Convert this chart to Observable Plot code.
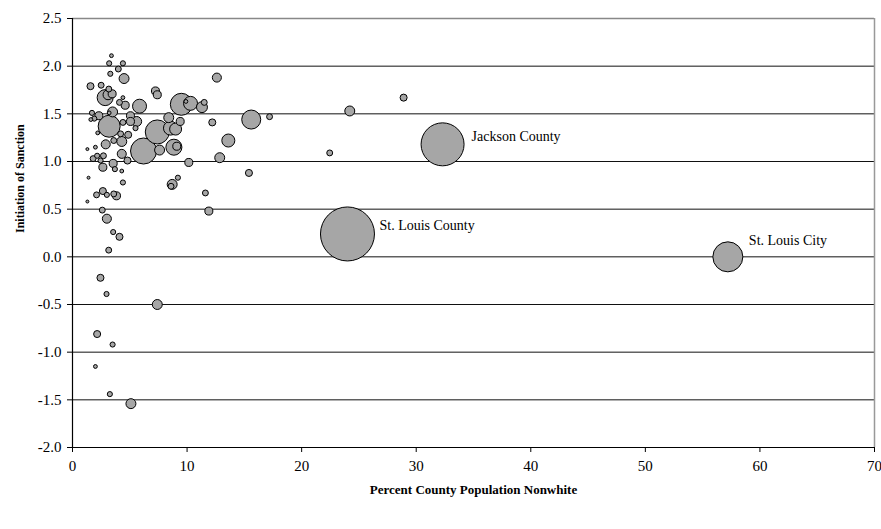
<!DOCTYPE html>
<html>
<head>
<meta charset="utf-8">
<script src="https://cdn.jsdelivr.net/npm/d3@7"></script>
<script src="https://cdn.jsdelivr.net/npm/@observablehq/plot@0.6"></script>
<style>
  html, body { margin: 0; padding: 0; background: #fff; }
  #chart svg { display: block; }
</style>
</head>
<body>
<div id="chart"></div>
<script>
// ---- data ----
const pctNonwhite = [
  3.4, 3.2, 4.4, 4.0, 3.3, 4.5, 1.57, 2.5, 3.17, 2.85,
  3.1, 3.46, 4.4, 4.1, 4.6, 5.85, 7.24, 7.4, 9.5, 10.3,
  9.9, 11.3, 11.5, 12.6, 15.6, 17.2, 12.2, 13.6, 12.85, 10.15,
  15.4, 9.2, 1.7, 1.6, 1.9, 2.3, 3.2, 3.2, 3.5, 4.4,
  5.06, 5.06, 5.6, 5.5, 7.4, 8.4, 8.55, 9.0, 9.4, 2.2,
  4.2, 4.86, 2.9, 3.6, 4.3, 6.2, 7.6, 8.85, 9.1, 4.3,
  4.8, 1.3, 2.0, 1.8, 2.15, 2.7, 2.45, 2.65, 3.55, 3.7,
  4.3, 1.4, 4.4, 8.7, 8.6, 1.3, 2.1, 2.65, 3.0, 3.6,
  3.84, 11.6, 11.9, 2.6, 3.0, 3.55, 4.1, 3.16, 2.44, 2.97,
  7.4, 2.15, 3.5, 2.0, 3.26, 5.1, 24.2, 28.9, 22.45, 32.3,
  24.0, 57.2
];
const sanction = [
  2.11, 2.03, 2.03, 1.97, 1.92, 1.87, 1.79, 1.80, 1.76, 1.67,
  1.70, 1.71, 1.67, 1.62, 1.59, 1.58, 1.74, 1.70, 1.60, 1.61,
  1.63, 1.57, 1.62, 1.88, 1.44, 1.47, 1.41, 1.22, 1.04, 0.99,
  0.88, 0.83, 1.51, 1.44, 1.45, 1.48, 1.37, 1.51, 1.52, 1.41,
  1.48, 1.42, 1.42, 1.35, 1.31, 1.46, 1.35, 1.34, 1.42, 1.30,
  1.29, 1.28, 1.18, 1.22, 1.21, 1.11, 1.12, 1.15, 1.16, 1.08,
  1.01, 1.13, 1.15, 1.03, 1.06, 1.06, 1.01, 0.94, 0.98, 0.92,
  0.90, 0.83, 0.78, 0.76, 0.74, 0.58, 0.65, 0.69, 0.65, 0.66,
  0.64, 0.67, 0.48, 0.49, 0.40, 0.26, 0.21, 0.07, -0.22, -0.39,
  -0.50, -0.81, -0.92, -1.15, -1.44, -1.54, 1.53, 1.67, 1.09, 1.18,
  0.24, 0.00
];
const bubbleSize = [
  5, 9, 9, 12, 9, 34, 17, 12, 12, 88,
  34, 22, 5, 12, 22, 67, 22, 22, 166, 67,
  5, 41, 12, 28, 124, 12, 17, 58, 34, 22,
  17, 9, 9, 5, 9, 22, 166, 5, 34, 12,
  22, 22, 34, 9, 198, 34, 67, 49, 22, 5,
  12, 17, 28, 12, 34, 232, 34, 88, 22, 28,
  17, 3, 5, 12, 9, 12, 9, 22, 22, 9,
  5, 3, 9, 34, 12, 3, 12, 17, 9, 12,
  22, 12, 22, 12, 28, 9, 17, 12, 17, 9,
  34, 17, 9, 5, 9, 34, 34, 17, 12, 634,
  1000, 309
];
const countyName = [];
countyName[99] = "Jackson County";
countyName[100] = "St. Louis County";
countyName[101] = "St. Louis City";

const xTicks = [0, 10, 20, 30, 40, 50, 60, 70];
const yTicks = [-2.0, -1.5, -1.0, -0.5, 0.0, 0.5, 1.0, 1.5, 2.0, 2.5];
const xLabel = "Percent County Population Nonwhite";
const yLabel = "Initiation of Sanction";

// ---- table built from the arrays ----
const data = pctNonwhite.map((x, i) => ({
  x, y: sanction[i], size: bubbleSize[i], name: countyName[i] || ""
})).sort((a, b) => b.size - a.size);

const byName = n => data.filter(d => d.name === n);

const chart = Plot.plot({
  width: 881,
  height: 529,
  marginLeft: 72,
  marginRight: 7,
  marginTop: 18,
  marginBottom: 82,
  style: {
    fontFamily: "'Liberation Serif', 'Times New Roman', serif",
    fontSize: "15px",
    background: "#fff",
    color: "#000"
  },
  x: { domain: [0, 70], label: null },
  y: { domain: [-2, 2.5], label: null },
  r: { type: "sqrt", domain: [0, 1000], range: [0, 27] },
  marks: [
    // gridlines
    Plot.ruleY(yTicks.filter(v => v > -2 && v < 2.5), { stroke: "#111", strokeWidth: 1 }),
    // plot-area border (top and right)
    Plot.ruleY([2.5], { stroke: "#888", strokeWidth: 1.5 }),
    Plot.ruleX([70], { stroke: "#999", strokeWidth: 1.5 }),
    // axes lines
    Plot.ruleX([0], { stroke: "#000", strokeWidth: 1.2 }),
    Plot.ruleY([-2], { stroke: "#000", strokeWidth: 1.2 }),
    Plot.axisX({
      ticks: xTicks, tickFormat: d => String(d),
      tickSize: 5, tickPadding: 8, label: null, fontSize: 15
    }),
    Plot.axisY({
      ticks: yTicks, tickFormat: d => d.toFixed(1),
      tickSize: 5, tickPadding: 6, label: null, fontSize: 15
    }),
    // bubbles
    Plot.dot(data, {
      x: "x", y: "y", r: "size",
      fill: "#a6a6a6", stroke: "#000", strokeWidth: 1,
      fillOpacity: 1
    }),
    // bubble labels
    Plot.text(byName("Jackson County"), {
      x: "x", y: "y", text: "name", textAnchor: "start", dx: 29, dy: -8, fontSize: 14
    }),
    Plot.text(byName("St. Louis County"), {
      x: "x", y: "y", text: "name", textAnchor: "start", dx: 32, dy: -8, fontSize: 14
    }),
    Plot.text(byName("St. Louis City"), {
      x: "x", y: "y", text: "name", textAnchor: "start", dx: 21, dy: -16, fontSize: 14
    }),
    // axis titles
    Plot.text([xLabel], {
      frameAnchor: "bottom", dy: 46, text: d => d,
      fontWeight: "bold", fontSize: 13
    }),
    Plot.text([yLabel], {
      frameAnchor: "left", dx: -52, rotate: -90, text: d => d,
      fontWeight: "bold", fontSize: 12
    })
  ]
});

document.getElementById("chart").appendChild(chart);
</script>
</body>
</html>
